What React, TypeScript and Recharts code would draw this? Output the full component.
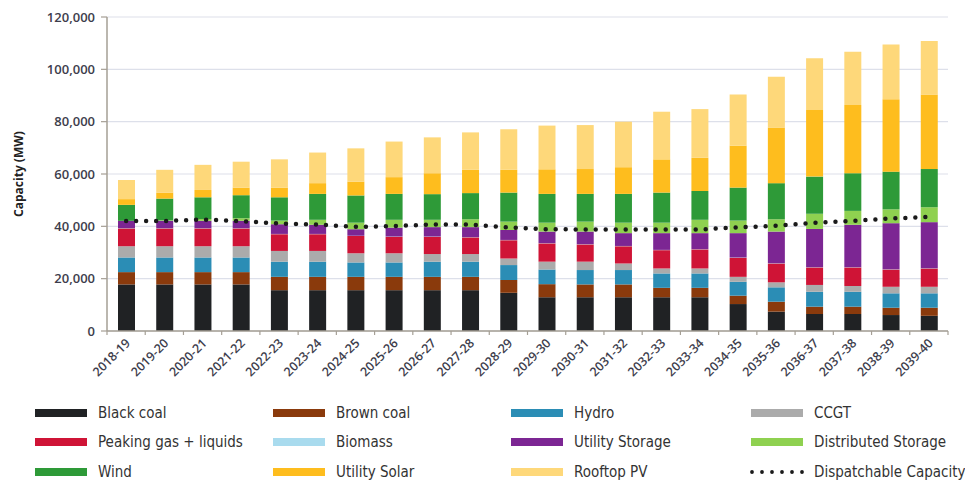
import {
  Bar,
  CartesianGrid,
  ComposedChart,
  Line,
  XAxis,
  YAxis,
} from "recharts";

const categories = [
  "2018-19", "2019-20", "2020-21", "2021-22", "2022-23", "2023-24",
  "2024-25", "2025-26", "2026-27", "2027-28", "2028-29", "2029-30",
  "2030-31", "2031-32", "2032-33", "2033-34", "2034-35", "2035-36",
  "2036-37", "2037-38", "2038-39", "2039-40",
];

const blackCoal = [17800, 17800, 17800, 17800, 15600, 15600, 15600, 15600, 15600, 15600, 14600, 12900, 12900, 12900, 12900, 12900, 10300, 7400, 6500, 6500, 6100, 5800];
const brownCoal = [4700, 4700, 4700, 4700, 5100, 5100, 5100, 5100, 5100, 5100, 4900, 5000, 4900, 4900, 3600, 3600, 3200, 3800, 2800, 2800, 2800, 3100];
const hydro = [5600, 5600, 5600, 5600, 5800, 5800, 5500, 5500, 5800, 5800, 5700, 5600, 5500, 5500, 5500, 5500, 5300, 5500, 5700, 5700, 5500, 5500];
const ccgt = [4300, 4300, 4300, 4300, 4100, 4100, 3500, 3500, 2900, 2900, 2500, 3000, 3200, 2500, 1900, 1900, 1900, 1900, 2600, 2200, 2500, 2500];
const peaking = [6800, 6800, 6800, 6800, 6400, 6400, 6600, 6300, 6600, 6400, 7000, 7000, 6600, 6600, 7000, 7300, 7300, 7200, 6700, 7100, 6600, 7000];
const biomass = [100, 100, 100, 100, 100, 100, 100, 100, 100, 100, 100, 100, 100, 100, 100, 100, 100, 100, 100, 100, 100, 100];
const utilityStorage = [2800, 2800, 2800, 2800, 3700, 3500, 2500, 3400, 3600, 3800, 3800, 4400, 4800, 4900, 6400, 6100, 9300, 12100, 14600, 16200, 17600, 17600];
const distributedStorage = [0, 200, 700, 1000, 1400, 1900, 2500, 3000, 2800, 3000, 3200, 3400, 3800, 4000, 4000, 5100, 4800, 4700, 5800, 5300, 5300, 5700];
const wind = [6100, 8300, 8300, 8800, 8900, 9900, 10400, 9900, 9800, 10000, 11100, 11000, 10600, 11000, 11500, 11000, 12600, 13800, 14200, 14400, 14400, 14600];
const utilitySolar = [2200, 2300, 2800, 2900, 3700, 4100, 5300, 6400, 8000, 8900, 8700, 9400, 9500, 10200, 12700, 12700, 16000, 21300, 25500, 26100, 27700, 28500];
const rooftopPv = [7300, 8700, 9600, 9900, 10800, 11700, 12700, 13600, 13700, 14300, 15500, 16700, 16800, 17400, 18200, 18600, 19600, 19400, 19700, 20300, 20900, 20400];
const dispatchable = [42000, 42000, 42600, 42000, 41100, 40700, 39800, 40100, 40700, 40700, 39600, 38900, 38800, 38800, 38800, 38800, 39600, 40200, 41300, 42100, 43000, 43600];

const yTicks = [0, 20000, 40000, 60000, 80000, 100000, 120000];

const series = [
  { key: "blackCoal", label: "Black coal", color: "#202224", values: blackCoal },
  { key: "brownCoal", label: "Brown coal", color: "#8a3a0c", values: brownCoal },
  { key: "hydro", label: "Hydro", color: "#2b8db5", values: hydro },
  { key: "ccgt", label: "CCGT", color: "#ababab", values: ccgt },
  { key: "peaking", label: "Peaking gas + liquids", color: "#cf1436", values: peaking },
  { key: "biomass", label: "Biomass", color: "#a9dbee", values: biomass },
  { key: "utilityStorage", label: "Utility Storage", color: "#7c2693", values: utilityStorage },
  { key: "distributedStorage", label: "Distributed Storage", color: "#8fd150", values: distributedStorage },
  { key: "wind", label: "Wind", color: "#2e9a38", values: wind },
  { key: "utilitySolar", label: "Utility Solar", color: "#febd1e", values: utilitySolar },
  { key: "rooftopPv", label: "Rooftop PV", color: "#fed87a", values: rooftopPv },
];

const data = categories.map((name, i) => {
  const row: Record<string, string | number> = { name, dispatchable: dispatchable[i] };
  series.forEach((s) => {
    row[s.key] = s.values[i];
  });
  return row;
});

const W = 965;
const H = 484;
const PLOT_LEFT = 107;
const PLOT_RIGHT = 17;
const BAND = (W - PLOT_LEFT - PLOT_RIGHT) / categories.length;
const AXIS_COLOR = "#a59f95";
const TEXT_COLOR = "#3d3d4c";
const FONT = "'Open Sans', 'DejaVu Sans', sans-serif";

const XTick = (props: any) => {
  const { x, y, payload, index } = props;
  const tx = x + 5;
  const ty = y + 13;
  return (
    <g>
      <line x1={x + BAND / 2} x2={x + BAND / 2} y1={y} y2={y + 4} stroke={AXIS_COLOR} strokeWidth={1.2} />
      {index === 0 && (
        <line x1={x - BAND / 2} x2={x - BAND / 2} y1={y} y2={y + 4} stroke={AXIS_COLOR} strokeWidth={1.2} />
      )}
      <text
        x={tx}
        y={ty}
        textAnchor="end"
        transform={`rotate(-45 ${tx} ${ty})`}
        fill={TEXT_COLOR}
        fontSize={12.5}
        fontWeight={600}
        fontFamily={FONT}
      >
        {payload.value}
      </text>
    </g>
  );
};

const legendRows = [
  ["Black coal", "Brown coal", "Hydro", "CCGT"],
  ["Peaking gas + liquids", "Biomass", "Utility Storage", "Distributed Storage"],
  ["Wind", "Utility Solar", "Rooftop PV", "Dispatchable Capacity"],
];
const legendCols = [35, 273, 511, 751];
const legendRowY = [413, 442, 472];

const ChartLegend = () => (
  <>
    {legendRows.map((row, r) =>
      row.map((label, c) => {
        const s = series.find((x) => x.label === label);
        const left = legendCols[c];
        const top = legendRowY[r];
        return (
          <div key={label}>
            {s ? (
              <div
                style={{
                  position: "absolute",
                  left,
                  top: top - 4,
                  width: 52,
                  height: 8,
                  background: s.color,
                }}
              />
            ) : (
              <svg style={{ position: "absolute", left: left - 2, top: top - 4 }} width={56} height={8}>
                <line x1={3} x2={54} y1={4} y2={4} stroke="#1a1a1a" strokeWidth={3.8} strokeDasharray="0 10" strokeLinecap="round" />
              </svg>
            )}
            <div
              style={{
                position: "absolute",
                left: left + 63,
                top: top - 11,
                fontFamily: "'DejaVu Sans Condensed', 'DejaVu Sans', sans-serif",
                fontSize: 15,
                color: "#333",
                whiteSpace: "nowrap",
                lineHeight: "22px",
              }}
            >
              {label}
            </div>
          </div>
        );
      })
    )}
  </>
);

export default function App() {
  return (
    <div style={{ position: "absolute", left: 0, top: 0, width: W, height: H, background: "#fff" }}>
      <ComposedChart
        width={W}
        height={H}
        data={data}
        margin={{ top: 17, right: PLOT_RIGHT, left: 0, bottom: 83 }}
        barSize={17}
      >
        <CartesianGrid vertical={false} stroke="#dde0ea" strokeWidth={1.2} />
        <XAxis
          dataKey="name"
          height={70}
          interval={0}
          tickSize={0}
          tickMargin={0}
          tick={<XTick />}
          axisLine={{ stroke: AXIS_COLOR, strokeWidth: 1.5 }}
          tickLine={false}
        />
        <YAxis
          width={PLOT_LEFT}
          domain={[0, 120000]}
          ticks={yTicks}
          tickFormatter={(v: number) => v.toLocaleString("en-US")}
          tick={{ fill: TEXT_COLOR, fontSize: 13, fontWeight: 600, fontFamily: FONT }}
          tickSize={6}
          tickMargin={6}
          axisLine={{ stroke: AXIS_COLOR, strokeWidth: 1.5 }}
          tickLine={{ stroke: AXIS_COLOR, strokeWidth: 1.2 }}
          label={() => (
            <text
              x={18}
              y={174}
              transform="rotate(-90 18 174)"
              textAnchor="middle"
              dominantBaseline="central"
              fill="#222"
              fontSize={12}
              fontWeight={700}
              fontFamily={FONT}
            >
              Capacity (MW)
            </text>
          )}
        />
        {series.map((s) => (
          <Bar key={s.key} dataKey={s.key} name={s.label} stackId="cap" fill={s.color} isAnimationActive={false} />
        ))}
        <Line
          dataKey="dispatchable"
          name="Dispatchable Capacity"
          type="linear"
          stroke="#1a1a1a"
          strokeWidth={4.5}
          strokeDasharray="0 10"
          strokeLinecap="round"
          dot={false}
          activeDot={false}
          isAnimationActive={false}
        />
      </ComposedChart>
      <ChartLegend />
    </div>
  );
}
